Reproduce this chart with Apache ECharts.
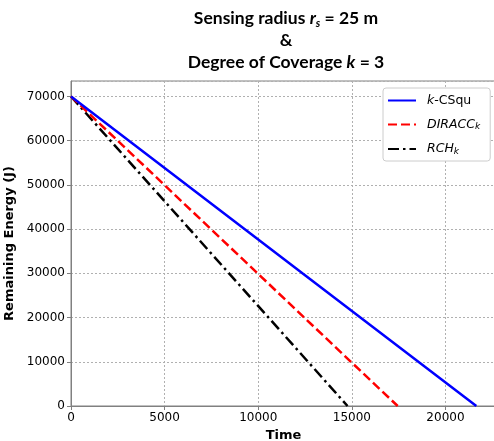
<!DOCTYPE html>
<html>
<head>
<meta charset="utf-8">
<script src="https://cdn.jsdelivr.net/npm/echarts@6/dist/echarts.min.js"></script>
<style>html,body{margin:0;padding:0;background:#fff}#c{width:494px;height:441px}</style>
</head>
<body>
<div id="c"></div>
<script>
// Data
const seriesNames = ['k-CSqu', 'DIRACC_k', 'RCH_k'];
const timeKCSqu = [0, 12360, 21650];
const energyKCSqu = [70000, 30000, 0];
const timeDIRACC = [0, 14950, 17450];
const energyDIRACC = [70000, 10000, 0];
const timeRCH = [0, 6330, 14770];
const energyRCH = [70000, 40000, 0];
const xTicks = [0, 5000, 10000, 15000, 20000];
const yTicks = [0, 10000, 20000, 30000, 40000, 50000, 60000, 70000];

const pairs = (xs, ys) => xs.map((x, i) => [x, ys[i]]);

const chart = echarts.init(document.getElementById('c'), null, {renderer: 'canvas'});
const tickFont = 'DejaVu Sans';
const titleFont = 'Lato';
chart.setOption({
  animation: false,
  title: {
    left: 281, top: 2, textAlign: 'center',
    text: '{b|Sensing radius }{i|r}{s|s}{b| = 25 m}\n{b|&}\n{b|Degree of Coverage }{i|k}{b| = 3}',
    textStyle: {
      lineHeight: 22,
      rich: {
        b: {fontFamily: titleFont, fontWeight: 'bold', fontSize: 17.5, color: '#000', lineHeight: 22},
        i: {fontFamily: titleFont, fontWeight: 'bold', fontStyle: 'italic', fontSize: 17.5, color: '#000', lineHeight: 22},
        s: {fontFamily: titleFont, fontWeight: 'bold', fontStyle: 'italic', fontSize: 11, color: '#000', verticalAlign: 'bottom', padding: [7, 0, 0, 0], lineHeight: 22}
      }
    }
  },
  grid: {left: 71, right: -2, top: 81, bottom: 35, show: true, borderColor: '#808080', borderWidth: 1, containLabel: false, outerBoundsMode: 'none'},
  legend: {
    left: 383, top: 88, orient: 'vertical',
    itemWidth: 28, itemHeight: 12, itemGap: 11,
    borderColor: '#cccccc', borderWidth: 1, borderRadius: 3,
    padding: [6, 10, 5, 4],
    backgroundColor: '#fff',
    data: seriesNames,
    itemStyle: {opacity: 0},
    formatter: function (n) {
      if (n === 'k-CSqu') return '{g|}{i|k}{n|-CSqu}';
      if (n === 'DIRACC_k') return '{g|}{i|DIRACC}{s|k}';
      return '{g|}{i|RCH}{s|k}';
    },
    textStyle: {
      rich: {
        g: {width: 6},
        n: {fontFamily: tickFont, fontSize: 12.5, color: '#000'},
        i: {fontFamily: tickFont, fontSize: 12.5, fontStyle: 'italic', color: '#000'},
        s: {fontFamily: tickFont, fontSize: 9, fontStyle: 'italic', color: '#000', verticalAlign: 'bottom', padding: [5, 0, 0, 0]}
      }
    }
  },
  xAxis: {
    type: 'value', min: 0, max: 22700, interval: 5000,
    name: 'Time', nameLocation: 'middle', nameGap: 22,
    nameTextStyle: {fontFamily: tickFont, fontWeight: 'bold', fontSize: 13, color: '#000'},
    axisLine: {show: true, lineStyle: {color: '#808080', width: 1}},
    axisTick: {show: true, length: 4, lineStyle: {color: '#808080'}},
    axisLabel: {fontFamily: tickFont, fontSize: 12, color: '#000', margin: 6, showMaxLabel: false, formatter: v => String(v)},
    splitLine: {show: true, lineStyle: {color: '#b0b0b0', type: [2, 2], width: 1}}
  },
  yAxis: {
    type: 'value', min: 0, max: 73500, interval: 10000,
    name: 'Remaining Energy (J)', nameLocation: 'middle', nameGap: 44, nameRotate: 90,
    nameTextStyle: {fontFamily: tickFont, fontWeight: 'bold', fontSize: 13, color: '#000'},
    axisLine: {show: true, lineStyle: {color: '#808080', width: 1}},
    axisTick: {show: true, length: 4, lineStyle: {color: '#808080'}},
    axisLabel: {fontFamily: tickFont, fontSize: 12, color: '#000', margin: 6, showMaxLabel: false, formatter: v => String(v)},
    splitLine: {show: true, lineStyle: {color: '#b0b0b0', type: [2, 2], width: 1}}
  },
  series: [
    {name: seriesNames[0], type: 'line', data: pairs(timeKCSqu, energyKCSqu), showSymbol: false, symbol: 'none',
     lineStyle: {color: '#0000ff', width: 2.5}, itemStyle: {color: '#0000ff'}, z: 3},
    {name: seriesNames[1], type: 'line', data: pairs(timeDIRACC, energyDIRACC), showSymbol: false, symbol: 'none',
     lineStyle: {color: '#ff0000', width: 2.5, type: [9, 4]}, itemStyle: {color: '#ff0000'}, z: 2},
    {name: seriesNames[2], type: 'line', data: pairs(timeRCH, energyRCH), showSymbol: false, symbol: 'none',
     lineStyle: {color: '#000000', width: 2.5, type: [11, 4, 2.5, 4]}, itemStyle: {color: '#000000'}, z: 1}
  ]
});
</script>
</body>
</html>
